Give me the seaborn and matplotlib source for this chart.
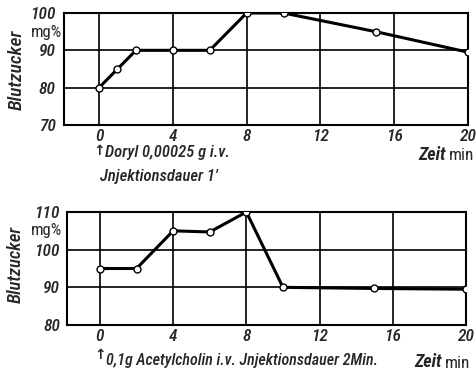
import matplotlib
matplotlib.use("Agg")
import matplotlib.pyplot as plt
import seaborn as sns
import pandas as pd

# --- data ---
top_time = [0, 1, 2, 4, 6, 8, 10, 15, 20]
top_sugar = [80, 85, 90, 90, 90, 100, 100, 95, 89.5]
bot_time = [0, 2, 4, 6, 8, 10, 15, 20]
bot_sugar = [95, 95, 105, 104.7, 110, 90, 89.7, 89.5]
x_ticks = [0, 4, 8, 12, 16, 20]
top_yticks = [70, 80, 90, 100]
bot_yticks = [80, 90, 100, 110]
ylabel = "Blutzucker"
unit_label = "mg%"
xlabel = "Zeit"
xunit = "min"
top_note1 = "Doryl 0,00025 g i.v."
top_note2 = "Jnjektionsdauer 1'"
bot_note = "0,1g Acetylcholin i.v. Jnjektionsdauer 2Min."

sns.set_style("white")
FAM = ["Roboto Condensed", "DejaVu Sans"]
plt.rcParams["font.family"] = FAM

W, H = 476, 371
fig = plt.figure(figsize=(W / 100, H / 100), dpi=100)


def rect(l, t, r, b):
    return [l / W, 1 - b / H, (r - l) / W, (b - t) / H]


def px(x, y):
    return x / W, 1 - y / H


ax1 = fig.add_axes(rect(64, 13, 468, 125))
ax2 = fig.add_axes(rect(67, 212, 466, 325))


def style(ax, xlo, ylim, yticks, grid_y, ypad):
    ax.set_xlim(xlo, 20)
    ax.set_ylim(*ylim)
    for s in ax.spines.values():
        s.set_color("black")
        s.set_linewidth(1.5)
        s.set_visible(True)
    for gx in [0, 4, 8, 12, 16]:
        ax.axvline(gx, color="black", lw=1.2, zorder=1)
    for gy in grid_y:
        ax.axhline(gy, color="black", lw=1.2, zorder=1)
    ax.set_xticks(x_ticks)
    ax.set_xticklabels([str(t) for t in x_ticks], fontsize=12.5, style="italic",
                       weight="medium")
    ax.set_yticks(yticks)
    ax.set_yticklabels([str(t) for t in yticks], fontsize=12.5, style="italic",
                       weight="medium")
    ax.tick_params(axis="x", length=0, pad=3)
    ax.tick_params(axis="y", length=0, pad=ypad)
    ax.set_xlabel("")
    ax.set_ylabel("")


df1 = pd.DataFrame({"t": top_time, "v": top_sugar})
df2 = pd.DataFrame({"t": bot_time, "v": bot_sugar})
for ax, df in [(ax1, df1), (ax2, df2)]:
    sns.lineplot(data=df, x="t", y="v", ax=ax, color="black", lw=2.2,
                 marker="o", markersize=5, markerfacecolor="white",
                 markeredgecolor="black", markeredgewidth=1.0, zorder=3)

style(ax1, -1.9, (70, 100), top_yticks, [80, 90], 6)
style(ax2, -1.8, (80, 110), bot_yticks, [90, 100], 5)

# unit labels
fig.text(*px(47, 33), unit_label, ha="center", va="center", fontsize=12)
fig.text(*px(46, 231), unit_label, ha="center", va="center", fontsize=12)

# y labels
fig.text(*px(17, 70), ylabel, rotation=90, ha="center", va="center",
         fontsize=14, style="italic", weight="medium")
fig.text(*px(16, 264), ylabel, rotation=90, ha="center", va="center",
         fontsize=13.5, style="italic", weight="medium")

# x labels
fig.text(*px(446, 155), xlabel, ha="right", va="center", fontsize=13,
         style="italic", weight="bold")
fig.text(*px(449, 156), xunit, ha="left", va="center", fontsize=12.5)
fig.text(*px(442, 362), xlabel, ha="right", va="center", fontsize=13,
         style="italic", weight="bold")
fig.text(*px(445, 363), xunit, ha="left", va="center", fontsize=12.5)

# annotations
fig.text(*px(99, 151), "\u2191", ha="center", va="center", fontsize=10,
         family="DejaVu Sans", weight="bold")
fig.text(*px(105, 152), top_note1, ha="left", va="center", fontsize=12,
         style="italic", weight="medium")
fig.text(*px(100, 177), top_note2, ha="left", va="center", fontsize=12,
         style="italic", weight="medium")
fig.text(*px(100, 355), "\u2191", ha="center", va="center", fontsize=10,
         family="DejaVu Sans", weight="bold")
fig.text(*px(106, 360), bot_note, ha="left", va="center", fontsize=11.5,
         style="italic", weight="medium")

fig.savefig("out.png", dpi=100)
